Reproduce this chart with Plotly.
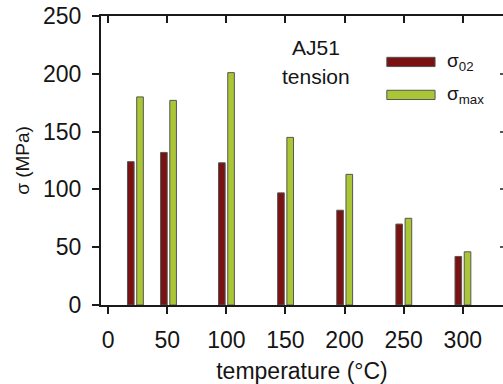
import plotly.graph_objects as go

temperature = [23, 51, 100, 150, 200, 250, 300]
sigma_02 = [124, 132, 123, 97, 82, 70, 42]
sigma_max = [180, 177, 201, 145, 113, 75, 46]
x_ticks = [0, 50, 100, 150, 200, 250, 300]
y_ticks = [0, 50, 100, 150, 200, 250]

RED = "#7a1212"
GREEN = "#abc634"
EDGE = "#555555"
AX = "#1a1a1a"
TXT = "#151515"
FONT = "Liberation Sans, Arial, sans-serif"

fig = go.Figure()
fig.add_trace(go.Bar(x=temperature, y=sigma_02, width=5.6, offset=-6.6,
                     marker=dict(color=RED, line=dict(color=EDGE, width=1)),
                     name="σ02", showlegend=False, hoverinfo="skip"))
fig.add_trace(go.Bar(x=temperature, y=sigma_max, width=5.6, offset=1.2,
                     marker=dict(color=GREEN, line=dict(color=EDGE, width=1)),
                     name="σmax", showlegend=False, hoverinfo="skip"))
# invisible helper trace so that the mirrored top / right axes are drawn
fig.add_trace(go.Scatter(x=temperature, y=sigma_max, xaxis="x2", yaxis="y2",
                         mode="markers", marker=dict(opacity=0),
                         showlegend=False, hoverinfo="skip"))

xr = [-6, 334]
yr = [0, 250]
fig.update_layout(
    width=503, height=384,
    margin=dict(l=101, r=0, t=16, b=79),
    paper_bgcolor="white", plot_bgcolor="white",
    barmode="overlay",
    font=dict(family=FONT, color=TXT, size=23),
    xaxis=dict(range=xr, tickvals=x_ticks, ticks="outside", ticklen=7, tickwidth=2,
               tickcolor=AX, showline=True, linewidth=2, linecolor=AX, showgrid=False,
               zeroline=False, tickfont=dict(size=23, color=TXT), ticklabelstandoff=6,
               title=dict(text="temperature (°C)", font=dict(size=23, color=TXT), standoff=12)),
    xaxis2=dict(range=xr, tickvals=x_ticks, overlaying="x", side="top", ticks="inside",
                ticklen=7, tickwidth=2, tickcolor=AX, showline=True, linewidth=2,
                linecolor=AX, showticklabels=False, showgrid=False, zeroline=False,
                anchor="y2"),
    yaxis=dict(range=yr, tickvals=y_ticks, ticks="outside", ticklen=7, tickwidth=2,
               tickcolor=AX, showline=True, linewidth=2, linecolor=AX, showgrid=False,
               zeroline=False, tickfont=dict(size=23, color=TXT), ticklabelstandoff=6,
               title=dict(text="σ (MPa)", font=dict(size=19, color=TXT), standoff=8)),
    yaxis2=dict(range=yr, tickvals=y_ticks, overlaying="y", side="right", ticks="inside",
                ticklen=3, tickwidth=1.5, tickcolor="#555555", showline=False,
                showticklabels=False, showgrid=False, zeroline=False, anchor="x2"),
)

# Title text inside the plot
fig.add_annotation(x=0.534, y=0.892, xref="paper", yref="paper", text="AJ51",
                   showarrow=False, font=dict(size=21, color=TXT),
                   xanchor="center", yanchor="middle")
fig.add_annotation(x=0.536, y=0.792, xref="paper", yref="paper", text="tension",
                   showarrow=False, font=dict(size=21, color=TXT),
                   xanchor="center", yanchor="middle")

# Custom legend
legend_items = [("σ<sub>02</sub>", RED, 0.841), ("σ<sub>max</sub>", GREEN, 0.727)]
for label, col, yc in legend_items:
    fig.add_shape(type="rect", xref="paper", yref="paper",
                  x0=0.711, x1=0.831, y0=yc - 0.016, y1=yc + 0.016,
                  fillcolor=col, line=dict(color=EDGE, width=1))
    fig.add_annotation(x=0.856, y=yc, xref="paper", yref="paper", text=label,
                       showarrow=False, font=dict(size=19, color=TXT),
                       xanchor="left", yanchor="middle")

fig.write_html("out.html")
